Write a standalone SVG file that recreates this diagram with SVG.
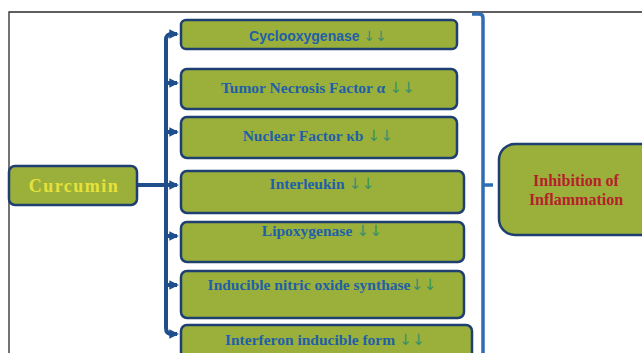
<svg xmlns="http://www.w3.org/2000/svg" width="642" height="353" viewBox="0 0 642 353">
<defs>
<style>
.box{fill:#9bb03a;stroke:#1f3f70;stroke-width:2.5}
.t{font-family:"Liberation Serif",serif;font-weight:bold;font-size:15.5px;fill:#1f5fa8;text-anchor:middle}
.s{font-family:"Liberation Sans",sans-serif;font-size:14px}
.dn{font-family:"DejaVu Sans",sans-serif;font-weight:normal;fill:#3a8f6a}
.conn{fill:none;stroke:#1f4e8c;stroke-width:4}
</style>
<marker id="ah" viewBox="0 0 10 10" refX="8" refY="5" markerWidth="2.4" markerHeight="2.6" orient="auto" markerUnits="strokeWidth">
<path d="M0,0 L10,5 L0,10 z" fill="#1f4e8c"/>
</marker>
</defs>
<rect width="642" height="353" fill="#ffffff"/>
<path d="M9,353 V12 H642" fill="none" stroke="#2a2a2a" stroke-width="1.3"/>

<g id="connectors">
<path class="conn" d="M137,185 H166"/>
<path class="conn" d="M177,34 H172 Q166,34 166,40 V328 Q166,334 172,334 H177" marker-end="url(#ah)"/>
<path class="conn" d="M172,34 H177" marker-end="url(#ah)"/>
<path class="conn" d="M166,83 H177" marker-end="url(#ah)"/>
<path class="conn" d="M166,132 H177" marker-end="url(#ah)"/>
<path class="conn" d="M166,185 H177" marker-end="url(#ah)"/>
<path class="conn" d="M166,236 H177" marker-end="url(#ah)"/>
<path class="conn" d="M166,285 H177" marker-end="url(#ah)"/>
<path d="M472,14 H479 Q483,14 483,18 V353" fill="none" stroke="#2e6db4" stroke-width="3.5"/>
<path d="M483,185 H493" fill="none" stroke="#2e6db4" stroke-width="3.5"/>
</g>

<g id="curcumin">
<rect class="box" x="9" y="166" width="128" height="39" rx="6"/>
<text x="74" y="192" class="t" style="font-size:18px;fill:#e6e23a;letter-spacing:1.5px">Curcumin</text>
</g>

<g id="cox">
<rect class="box" x="181" y="20" width="276" height="29" rx="5"/>
<text x="318" y="41" class="t s">Cyclooxygenase <tspan class="dn">↓↓</tspan></text>
</g>
<g id="tnf">
<rect class="box" x="181" y="69" width="276" height="40" rx="6"/>
<text x="318" y="93" class="t">Tumor Necrosis Factor α <tspan class="dn">↓↓</tspan></text>
</g>
<g id="nf">
<rect class="box" x="181" y="117" width="276" height="41" rx="6"/>
<text x="318" y="141" class="t">Nuclear Factor κb <tspan class="dn">↓↓</tspan></text>
</g>
<g id="il">
<rect class="box" x="181" y="171" width="283" height="42" rx="6"/>
<text x="322" y="189" class="t">Interleukin <tspan class="dn">↓↓</tspan></text>
</g>
<g id="lox">
<rect class="box" x="181" y="222" width="283" height="40" rx="6"/>
<text x="322" y="236" class="t">Lipoxygenase <tspan class="dn">↓↓</tspan></text>
</g>
<g id="inos">
<rect class="box" x="181" y="271" width="283" height="47" rx="6"/>
<text x="322" y="290" class="t">Inducible nitric oxide synthase<tspan class="dn">↓↓</tspan></text>
</g>
<g id="ifn">
<rect class="box" x="181" y="325" width="291" height="40" rx="6"/>
<text x="325" y="345" class="t">Interferon inducible form <tspan class="dn">↓↓</tspan></text>
</g>

<g id="inhibition">
<rect class="box" x="499" y="144" width="160" height="91" rx="16"/>
<text x="576" y="186" class="t" style="font-size:16px;fill:#b5212a">Inhibition of</text>
<text x="576" y="205" class="t" style="font-size:16px;fill:#b5212a">Inflammation</text>
</g>
</svg>
